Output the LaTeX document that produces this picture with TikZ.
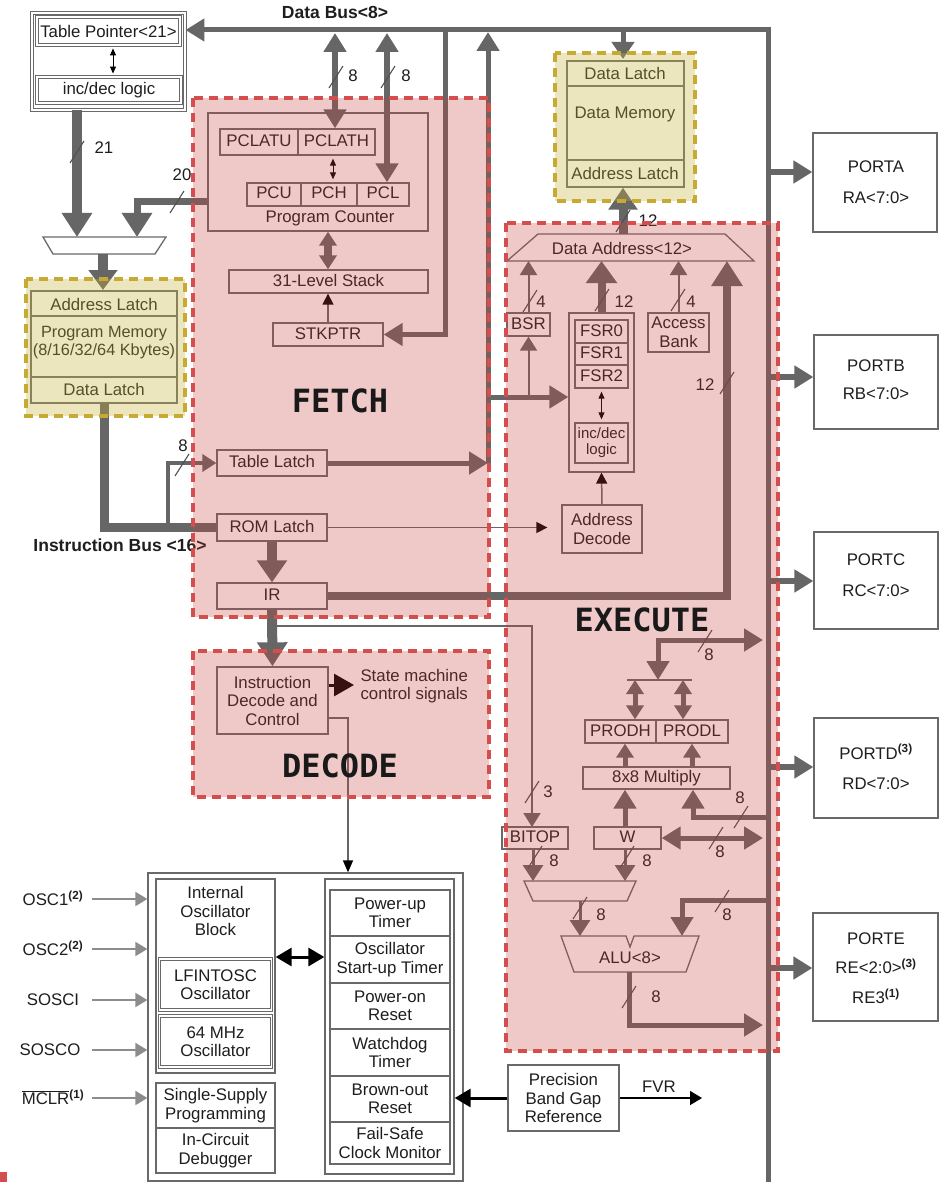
\documentclass[tikz,border=0pt]{standalone}
\usepackage{fontspec}
\setmainfont{Liberation Sans}
\newfontfamily\monob{DejaVu Sans Mono}
\usetikzlibrary{arrows.meta,calc}
\definecolor{cg}{RGB}{102,102,102}
\definecolor{bc}{RGB}{105,105,105}
\definecolor{txt}{RGB}{30,30,30}
\definecolor{lg}{RGB}{140,140,140}
\definecolor{mkc}{RGB}{80,80,80}
\definecolor{ovr}{RGB}{200,60,60}
\definecolor{rdash}{RGB}{212,78,78}
\definecolor{ovy}{RGB}{200,180,60}
\definecolor{ydash}{RGB}{200,170,50}
\newcommand\fs{\fontsize{16.8}{18.5}\selectfont}
\newcommand\fsb{\fontsize{17.5}{19}\selectfont\bfseries}
\newcommand\phlab{\monob\bfseries\fontsize{32}{34}\selectfont}
\newcommand\busmark[2]{\draw[mk] (#1,#2) ++(-7,11) -- ++(14,-22);}
\tikzset{
  TA/.tip={Triangle[length=19pt,width=22pt]},
  TB/.tip={Triangle[length=24pt,width=29pt]},
  TC/.tip={Triangle[length=14pt,width=17pt]},
  TD/.tip={Triangle[length=16pt,width=20pt]},
  TT/.tip={Triangle[length=14pt,width=17pt]},
  TK/.tip={Triangle[length=11pt,width=11pt,color=black]},
  TS/.tip={Triangle[length=7pt,width=6pt]},
  TI/.tip={Triangle[length=12pt,width=14pt]},
  TX/.tip={Triangle[length=16pt,width=18pt]},
  box/.style={draw=bc, line width=1.3pt, inner sep=0pt, text height=12pt, text depth=3pt},
  mbox/.style={draw=bc, line width=1.3pt, inner sep=0pt, align=center},
  dbox/.style={draw=bc, line width=0.9pt, double, double distance=1.4pt, inner sep=0pt, align=center},
  mk/.style={draw=mkc, line width=1.1pt},
  thinbl/.style={black, line width=0.9pt, {TS}-{TS}, shorten <=3pt, shorten >=3pt},
}
\begin{document}
\begin{tikzpicture}[x=1pt,y=-1pt, every node/.style={font=\fs, text=txt}]
\fill[white] (0,0) rectangle (941,1182);
\useasboundingbox (0,0) rectangle (941,1182);

% ---------- Table pointer ----------
\node[dbox, minimum width=153pt, minimum height=97pt] (tp) at (108.5,61.5) {};
\node[dbox, minimum width=143pt, minimum height=28pt] (tpr) at (108.5,31) {Table Pointer<21>};
\node[dbox, minimum width=144pt, minimum height=26pt] (tpl) at (109,90) {inc/dec logic};
\draw[thinbl] (113,0 |- tpr.south) -- (113,0 |- tpl.north);

% ---------- FETCH boxes ----------
\node[box, minimum width=220pt, minimum height=118pt] (pc) at (318,172) {};
\node[box, minimum width=78pt, minimum height=26pt] (pclatu) at (259,142) {PCLATU};
\node[box, minimum width=77pt, minimum height=26pt] (pclath) at (336.5,142) {PCLATH};
\node[box, minimum width=54pt, minimum height=23pt] (pcu) at (274,194.5) {PCU};
\node[box, minimum width=56pt, minimum height=23pt] (pch) at (329,194.5) {PCH};
\node[box, minimum width=52pt, minimum height=23pt] (pcl) at (383,194.5) {PCL};
\node (pclbl) at (330,218) {Program Counter};
\draw[thinbl] (333,0 |- pclath.south) -- (333,0 |- pch.north);
\node[box, minimum width=199pt, minimum height=23pt] (stack) at (328.5,281.5) {31-Level Stack};
\node[box, minimum width=110pt, minimum height=23pt] (stk) at (328,334.5) {STKPTR};
\draw[cg, line width=8pt, {TC}-{TC}] (328,0 |- pc.south) -- (328,0 |- stack.north);
\draw[cg, line width=1.5pt, -{TK}] (stk.north) -- (328,0 |- stack.south);

\node[box, minimum width=110pt, minimum height=26pt] (tlatch) at (272,463) {Table Latch};
\node[box, minimum width=110pt, minimum height=27pt] (rom) at (272,527.5) {ROM Latch};
\node[box, minimum width=110pt, minimum height=26pt] (ir) at (272,596) {IR};

% ---------- data bus ----------
\coordinate (dbR) at (768,30);
\coordinate (dbB) at (768,1182);
\draw[cg, line width=5pt, -{TA}] (dbB) -- (dbR) -- (tp.east |- dbR);
\node[font=\fsb] (dblbl) at (335,12) {Data Bus<8>};
\draw[cg, line width=6.5pt, {TA}-{TA}] (335,33) -- (335,0 |- pclath.north);
\draw[cg, line width=6.5pt, {TA}-{TA}] (387,33) -- (387,0 |- pcl.north);
\busmark{336}{77}\busmark{388}{77}
\node (n8a) at (353,76) {8};
\node (n8b) at (406,76) {8};
\draw[cg, line width=5pt, -{TA}] (445,30) -- (445,0 |- stk.east) -- (stk.east);
\draw[cg, line width=5pt, -{TA}] (488,0 |- tlatch.east) -- (488,32);
\draw[cg, line width=5pt, -{TA}] (tlatch.east) -- (488,0 |- tlatch.east);
\draw[cg, line width=5pt, -{Triangle[length=17pt,width=22pt]}] (623,30) -- (623,59);

% ---------- Program memory ----------
\node[box, minimum width=146pt, minimum height=112pt] (pm) at (104,347) {};
\draw[bc, line width=1.3pt] (pm.west |- 0,316) -- (pm.east |- 0,316) (pm.west |- 0,377) -- (pm.east |- 0,377);
\node (pmal) at (104,304) {Address Latch};
\node[align=center, font=\fontsize{16.3}{17.5}\selectfont] (pmt) at (104,342.5) {Program Memory\\(8/16/32/64 Kbytes)};
\node (pmdl) at (104,389) {Data Latch};
\draw[cg, line width=10pt, -{TB}] (77,0 |- tp.south) -- (77,237);
\draw[cg, line width=7pt, -{TB}] (pc.west |- 0,202) -- (137,202) -- (137,237);
\busmark{77}{152}\busmark{177}{202}
\node (n21) at (104,148) {21};
\node (n20) at (182,175) {20};
\draw[bc, line width=1.3pt] (43,237) -- (166,237) -- (155,254) -- (53,254) -- cycle;
\draw[cg, line width=10pt, -{Triangle[length=20pt,width=28pt]}] (103,254) -- (103,290);

% instruction bus
\draw[cg, line width=9pt] (pm.south) -- (104,0 |- rom.west) -- (rom.west);
\draw[cg, line width=4pt, -{TT}] (168,527) -- (168,0 |- tlatch.west) -- (tlatch.west);
\busmark{182}{465}
\node (n8c) at (183,446) {8};
\node[font=\fsb] (iblbl) at (120,545) {Instruction Bus <16>};

% IR line to BITOP
\draw[cg, line width=2pt, -{TT}] (272,626) -- (532,626) -- (532,827);
\draw[cg, line width=10pt, -{Triangle[length=22pt,width=29pt]}] (rom.south) -- (ir.north);

% ---------- Data memory ----------
\node[box, minimum width=117pt, minimum height=126pt] (dm) at (625.5,124) {};
\draw[bc, line width=1.3pt] (dm.west |- 0,86) -- (dm.east |- 0,86) (dm.west |- 0,160) -- (dm.east |- 0,160);
\node (dmdl) at (625,73) {Data Latch};
\node (dmdm) at (625,114) {Data Memory};
\node (dmal) at (625,173) {Address Latch};
\draw[bc, line width=1.3pt] (538,234) -- (725,234) -- (754,261) -- (507,261) -- cycle;
\node (dalbl) at (622,248) {Data Address<12>};
\draw[cg, line width=9pt, -{Triangle[length=22pt,width=28pt]}] (623,234) -- (623,0 |- dm.south);
\busmark{623}{221}
\node (n12a) at (648,221) {12};

% ---------- EXECUTE: addressing ----------
\node[box, minimum width=43pt, minimum height=23pt] (bsr) at (528.5,324.5) {BSR};
\node[box, minimum width=65pt, minimum height=159pt] (fsr) at (601.5,392.5) {};
\node[box, minimum width=53pt, minimum height=23pt] (fsr0) at (601.5,331.5) {FSR0};
\node[box, minimum width=53pt, minimum height=22pt] (fsr1) at (601.5,354) {FSR1};
\node[box, minimum width=53pt, minimum height=23pt] (fsr2) at (601.5,376.5) {FSR2};
\node[mbox, minimum width=53pt, minimum height=40pt, font=\fontsize{15}{16}\selectfont] (incdec) at (601.5,443) {inc/dec\\logic};
\draw[thinbl] (fsr2.south) -- (incdec.north);
\node[mbox, minimum width=61pt, minimum height=39pt] (acc) at (678.5,332.5) {Access\\Bank};
\node[mbox, minimum width=80pt, minimum height=48pt] (adec) at (602,529) {Address\\Decode};
\draw[cg, line width=2pt, -{TT}] (bsr.north) -- (528.5,261);
\draw[cg, line width=8pt, -{Triangle[length=22pt,width=30pt]}] (fsr.north) -- (601.5,261);
\draw[cg, line width=2pt, -{TT}] (acc.north) -- (678.5,261);
\draw[cg, line width=8pt, -{Triangle[length=25pt,width=30pt]}] (ir.east) -- (727,0 |- ir.east) -- (727,261);
\busmark{530}{301}\busmark{602}{300}\busmark{678}{300}\busmark{727}{383}
\node (n4a) at (541,302) {4};
\node (n12b) at (624,302) {12};
\node (n4b) at (691,302) {4};
\node (n12c) at (705,385) {12};
\draw[cg, line width=5pt, -{TA}] (488,397) -- (fsr.west |- 0,397);
\draw[cg, line width=2pt, -{TT}] (528.5,397) -- (bsr.south);
\draw[cg, line width=1.5pt, -{TK}] (adec.north) -- (601.5,0 |- fsr.south);
\draw[cg, line width=1.5pt, -{TK}] (rom.east) -- ($(adec.west |- rom.east)+(-14,0)$);

% ---------- EXECUTE: ALU ----------
\node[box, minimum width=71pt, minimum height=23pt] (prodh) at (620.5,731.5) {PRODH};
\node[box, minimum width=72pt, minimum height=23pt] (prodl) at (692,731.5) {PRODL};
\node[box, minimum width=147pt, minimum height=22pt] (mul) at (656.5,778) {8x8 Multiply};
\node[box, minimum width=67pt, minimum height=22pt] (w) at (627.5,838) {W};
\node[box, minimum width=66pt, minimum height=22pt] (bitop) at (535,838) {BITOP};
\draw[cg, line width=5pt, {TA}-{TA}] (658,680) -- (658,640) -- (763,640);
\draw[bc, line width=1.5pt] (627,680) -- (692,680);
\draw[cg, line width=5pt, {TC}-{TC}] (635,680) -- (635,0 |- prodh.north);
\draw[cg, line width=5pt, {TC}-{TC}] (683,680) -- (683,0 |- prodl.north);
\draw[cg, line width=5pt, -{TC}] (625,0 |- mul.north) -- (625,0 |- prodh.south);
\draw[cg, line width=5pt, -{TC}] (692,0 |- mul.north) -- (692,0 |- prodl.south);
\draw[cg, line width=5pt, -{TA}] (625,0 |- w.north) -- (625,0 |- mul.south);
\draw[cg, line width=5pt, -{TA}] (768,817) -- (693,817) -- (693,0 |- mul.south);
\draw[cg, line width=5pt, {TA}-{TA}] (w.east) -- (763,0 |- w.east);
\draw[cg, line width=3pt, -{TD}] (533,0 |- bitop.south) -- (533,881);
\draw[cg, line width=3pt, -{TD}] (625,0 |- w.south) -- (625,881);
\draw[bc, line width=1.3pt] (524,881) -- (636,881) -- (627,901) -- (533,901) -- cycle;
\draw[cg, line width=3pt, -{TD}] (580,901) -- (580,936);
\draw[cg, line width=5pt, -{TA}] (768,900) -- (682,900) -- (682,936);
\draw[bc, line width=1.3pt] (561,936) -- (626,936) -- (630,947) -- (634,936) -- (699,936) -- (686,972) -- (574,972) -- cycle;
\node (alu) at (630,958) {ALU<8>};
\draw[cg, line width=5pt, -{TA}] (629,972) -- (629,1025) -- (763,1025);
\busmark{532}{792}\busmark{705}{641}\busmark{741}{817}\busmark{716}{838}
\busmark{535}{857}\busmark{627}{857}\busmark{580}{908}\busmark{722}{901}\busmark{629}{997}
\node (n3) at (548,792) {3};
\node (n8d) at (709,655) {8};
\node (n8e) at (740,798) {8};
\node (n8f) at (720,852) {8};
\node (n8g) at (554,861) {8};
\node (n8h) at (647,861) {8};
\node (n8i) at (601,915) {8};
\node (n8j) at (727,915) {8};
\node (n8k) at (656,997) {8};

% ---------- Decode ----------
\node[mbox, minimum width=111pt, minimum height=67pt] (idc) at (272.5,700.5) {Instruction\\Decode and\\Control};
\draw[cg, line width=10pt, -{Triangle[length=24pt,width=29pt]}] (ir.south) -- (idc.north);
\draw[black, line width=3pt, -{Triangle[length=20pt,width=22pt]}] (idc.east |- 0,685) -- (354,685);
\node[align=left, anchor=west] (sm) at (357,686) {State machine\\control signals};

% ---------- Ports ----------
\node[box, minimum width=124pt, minimum height=99pt] (pa) at (875,182.5) {};
\node[align=center] (pat) at (876,182) {PORTA\\[12pt]RA<7:0>};
\node[box, minimum width=124pt, minimum height=94pt] (pb) at (876,382) {};
\node[align=center] (pbt) at (876,379.5) {PORTB\\[9pt]RB<7:0>};
\node[box, minimum width=124pt, minimum height=97pt] (pcc) at (876,580.5) {};
\node[align=center] (pct) at (876,575) {PORTC\\[12pt]RC<7:0>};
\node[box, minimum width=124pt, minimum height=100pt] (pd) at (876,768) {};
\node[align=center] (pdt) at (876,767) {PORTD\textsuperscript{\bfseries(3)}\\[12pt]RD<7:0>};
\node[box, minimum width=125pt, minimum height=108pt] (pe) at (875.5,967) {};
\node[align=center] (pet) at (876,968) {PORTE\\[11pt]RE<2:0>\textsuperscript{\bfseries(3)}\\[11pt]RE3\textsuperscript{\bfseries(1)}};
\draw[cg, line width=6pt, -{TA}] (768,172) -- (pa.west |- 0,172);
\draw[cg, line width=6pt, -{TA}] (768,377) -- (pb.west |- 0,377);
\draw[cg, line width=6pt, -{TA}] (768,581) -- (pcc.west |- 0,581);
\draw[cg, line width=6pt, -{TA}] (768,767) -- (pd.west |- 0,767);
\draw[cg, line width=6pt, -{TA}] (768,968) -- (pe.west |- 0,968);

% ---------- System block ----------
\node[box, minimum width=315pt, minimum height=308pt] (sys) at (305.5,1027) {};
\draw[cg, line width=1.5pt, -{Triangle[length=12pt,width=10pt,color=black]}] (idc.east |- 0,718) -- (348,718) -- (348,0 |- sys.north);
\node[box, minimum width=119pt, minimum height=194pt] (osc) at (215.5,976) {};
\node[align=center] (osct) at (215.5,911) {Internal\\Oscillator\\Block};
\node[dbox, minimum width=112pt, minimum height=51pt] (lfint) at (215.5,984.5) {LFINTOSC\\Oscillator};
\node[dbox, minimum width=112pt, minimum height=51pt] (mhz) at (215.5,1041.5) {64 MHz\\Oscillator};
\node[mbox, minimum width=119pt, minimum height=45pt] (ssp) at (215.5,1105.5) {Single-Supply\\Programming};
\node[mbox, minimum width=119pt, minimum height=45pt] (icd) at (215.5,1150.5) {In-Circuit\\Debugger};
\node[box, minimum width=129pt, minimum height=295pt] (rc) at (389.5,1026.5) {};
\node[mbox, line width=1.6pt, minimum width=120pt, minimum height=46pt] (put) at (390,913) {Power-up\\Timer};
\node[mbox, line width=1.6pt, minimum width=120pt, minimum height=47pt] (ost) at (390,959.5) {Oscillator\\Start-up Timer};
\node[mbox, line width=1.6pt, minimum width=120pt, minimum height=46pt] (por) at (390,1006) {Power-on\\Reset};
\node[mbox, line width=1.6pt, minimum width=120pt, minimum height=47pt] (wdt) at (390,1052.5) {Watchdog\\Timer};
\node[mbox, line width=1.6pt, minimum width=120pt, minimum height=46pt] (bor) at (390,1099) {Brown-out\\Reset};
\node[mbox, line width=1.6pt, minimum width=120pt, minimum height=42pt] (fscm) at (390,1143) {Fail-Safe\\Clock Monitor};
\draw[black, line width=3pt, {TX}-{TX}] (osc.east |- 0,957) -- (rc.west |- 0,957);

\node (osc1) at (53,898) {OSC1\textsuperscript{\bfseries(2)}};
\node (osc2) at (53,948) {OSC2\textsuperscript{\bfseries(2)}};
\node (sosci) at (53,1000) {SOSCI};
\node (sosco) at (50,1050) {SOSCO};
\node (mclr) at (53,1097) {$\overline{\hbox{MCLR}}$\textsuperscript{\bfseries(1)}};
\draw[lg, line width=2pt, -{TI}] (92,899) -- (sys.west |- 0,899);
\draw[lg, line width=2pt, -{TI}] (92,949) -- (sys.west |- 0,949);
\draw[lg, line width=2pt, -{TI}] (92,1000) -- (sys.west |- 0,1000);
\draw[lg, line width=2pt, -{TI}] (92,1050) -- (sys.west |- 0,1050);
\draw[lg, line width=2pt, -{TI}] (92,1098) -- (sys.west |- 0,1098);

\node[mbox, minimum width=111pt, minimum height=66pt] (pbg) at (563.5,1098) {Precision\\Band Gap\\Reference};
\draw[black, line width=3pt, -{TX}] (pbg.west) -- (rc.east |- pbg.west);
\draw[black, line width=1.5pt, -{Triangle[length=12pt,width=14pt]}] (pbg.east) -- (702,0 |- pbg.east);
\node (fvr) at (659,1087) {FVR};

% ---------- overlays ----------
\path[fill=ovr, fill opacity=.28] (193,98) rectangle (489,617);
\path[fill=ovr, fill opacity=.28] (193,651) rectangle (489,797);
\path[fill=ovr, fill opacity=.28] (506,223) rectangle (778,1051);
\path[fill=ovy, fill opacity=.33] (26,279) rectangle (185,416);
\path[fill=ovy, fill opacity=.33] (555,53) rectangle (695,201);
\draw[rdash, line width=3.5pt, dash pattern=on 9pt off 6pt] (193,98) rectangle (489,617);
\draw[rdash, line width=3.5pt, dash pattern=on 9pt off 6pt] (193,651) rectangle (489,797);
\draw[rdash, line width=3.5pt, dash pattern=on 9pt off 6pt] (506,223) rectangle (778,1051);
\draw[ydash, line width=3.5pt, dash pattern=on 9pt off 6pt] (26,279) rectangle (185,416);
\draw[ydash, line width=3.5pt, dash pattern=on 9pt off 6pt] (555,53) rectangle (695,201);
\fill[rdash] (0,1172) rectangle (7,1182);

\node[font=\phlab, text=black!90] (fetch) at (340,401) {FETCH};
\node[font=\phlab, text=black!90] (decode) at (340,766) {DECODE};
\node[font=\phlab, text=black!90] (execute) at (642,620) {EXECUTE};
\end{tikzpicture}
\end{document}
